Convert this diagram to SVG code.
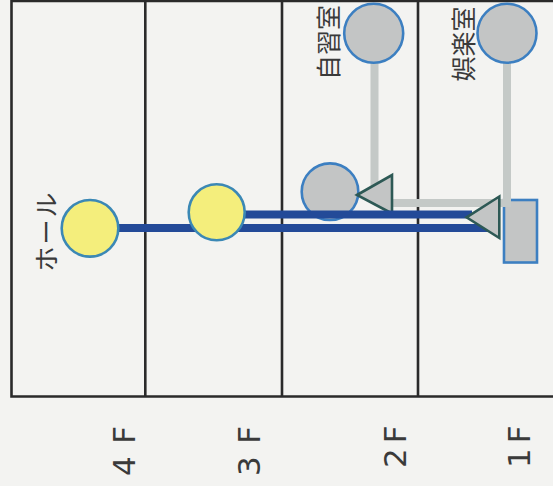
<svg xmlns="http://www.w3.org/2000/svg" width="553" height="486" viewBox="0 0 553 486">
<style>
.frame{stroke:#2a2a2a;stroke-width:2.6;fill:none}
.lbl{font-family:"Noto Sans CJK JP","Noto Sans",sans-serif;font-size:25px;fill:#3a3a3a}
.fl{font-family:"DejaVu Sans","Liberation Sans",sans-serif;font-size:31px;fill:#3a3a3a}
.gline{stroke:#c4c9c7;stroke-width:8;fill:none}
.bline{stroke:#234a98;stroke-width:8;fill:none}
.room{fill:#c3c5c5;stroke:#3c7fc1;stroke-width:2.6}
.hall{fill:#f4ee7c;stroke:#3b88b5;stroke-width:2.6}
.tri{fill:#c3c5c5;stroke:#2d5955;stroke-width:2.6;stroke-linejoin:miter}
</style>
<rect x="0" y="0" width="553" height="486" fill="#f3f3f1"/>
<g id="frame">
<path class="frame" d="M11.5,0 V396.5 H553 M11.5,1 H553 M145.3,0 V396.5 M282,0 V396.5 M418,0 V396.5"/>
</g>
<g id="floor-labels">
<text class="fl" transform="translate(135,476) rotate(-90)" letter-spacing="1.3">4 F</text>
<text class="fl" transform="translate(260,476) rotate(-90)" letter-spacing="1.3">3 F</text>
<text class="fl" transform="translate(406,468) rotate(-90)" letter-spacing="5">2F</text>
<text class="fl" transform="translate(530,468) rotate(-90)" letter-spacing="5">1F</text>
</g>
<g id="connectors">
<line class="gline" x1="374.5" y1="60" x2="374.5" y2="188"/>
<polyline class="gline" points="507,60 507,203 390,203"/>
</g>
<g id="rec-1f">
<rect class="room" x="504" y="200" width="33" height="62.5"/>
<polyline class="gline" points="507,190 507,203 500,203"/>
</g>
<g id="study-2f">
<circle class="room" cx="330" cy="191.7" r="28.3"/>
</g>
<g id="connectors-main">
<polygon class="tri" points="357,195 392,175 392,213.5"/>
<line class="bline" x1="90" y1="228" x2="499" y2="228"/>
<line class="bline" x1="216" y1="214.5" x2="472" y2="214.5"/>
<polygon class="tri" points="466.5,217.3 499.3,196.5 499.3,238"/>
</g>
<g id="hall">
<circle class="hall" cx="90" cy="228.3" r="28.3"/>
<text class="lbl" transform="translate(56,231) rotate(-90)" text-anchor="middle" letter-spacing="2">ホール</text>
</g>
<g id="floor3">
<circle class="hall" cx="216.7" cy="212.3" r="28"/>
</g>
<g id="study-room">
<circle class="room" cx="373.7" cy="33.3" r="29.5"/>
<text class="lbl" transform="translate(338,42.5) rotate(-90)" text-anchor="middle">自習室</text>
</g>
<g id="rec-room">
<circle class="room" cx="507" cy="33.3" r="29.5"/>
<text class="lbl" transform="translate(472.5,44) rotate(-90)" text-anchor="middle">娯楽室</text>
</g>
</svg>
